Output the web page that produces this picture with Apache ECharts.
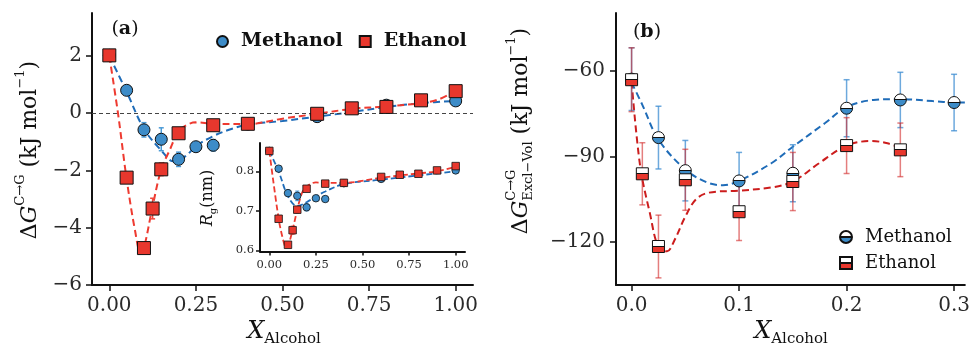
<!DOCTYPE html>
<html>
<head>
<meta charset="utf-8">
<script src="https://cdn.jsdelivr.net/npm/echarts@6/dist/echarts.min.js"></script>
<style>
  html, body { margin: 0; padding: 0; background: #fff; }
  #chart { width: 973px; height: 346px; }
</style>
</head>
<body>
<div id="chart"></div>
<script>
// ---- panel (a): free energy vs alcohol fraction ----
const xMethA = [0, 0.05, 0.1, 0.15, 0.2, 0.25, 0.3, 0.4, 0.6, 0.8, 1.0];
const dGMethA = [2.02, 0.80, -0.58, -0.91, -1.61, -1.17, -1.12, -0.38, -0.12, 0.28, 0.43];
const dGMethErrA = [0.08, 0.1, 0.25, 0.4, 0.25, 0.1, 0.2, 0.1, 0.15, 0.1, 0.08];
const xEthA = [0, 0.05, 0.1, 0.125, 0.15, 0.2, 0.3, 0.4, 0.6, 0.7, 0.8, 0.9, 1.0];
const dGEthA = [2.02, -2.25, -4.71, -3.33, -1.96, -0.70, -0.42, -0.37, -0.02, 0.17, 0.22, 0.45, 0.77];
const dGEthErrA = [0.05, 0.15, 0.15, 0.36, 0.22, 0.1, 0.1, 0.08, 0.08, 0.08, 0.1, 0.08, 0.1];

// dashed guide curves
const fitXMethA = [0, 0.05, 0.1, 0.15, 0.185, 0.22, 0.25, 0.3, 0.35, 0.4, 0.5, 0.6, 0.7, 0.8, 0.9, 1.0];
const fitMethA = [2.0, 0.75, -0.55, -1.3, -1.68, -1.5, -1.15, -0.8, -0.56, -0.4, -0.27, -0.12, 0.04, 0.22, 0.35, 0.43];
const fitXEthA = [0, 0.025, 0.05, 0.075, 0.09, 0.1, 0.125, 0.15, 0.175, 0.2, 0.225, 0.25, 0.3, 0.4, 0.5, 0.6, 0.7, 0.8, 0.9, 0.95, 1.0];
const fitEthA = [2.0, 0.0, -2.3, -4.15, -4.86, -4.7, -3.25, -1.96, -1.27, -0.63, -0.4, -0.32, -0.37, -0.38, -0.19, -0.02, 0.15, 0.24, 0.35, 0.48, 0.78];

// ---- inset: radius of gyration ----
const xMethR = [0, 0.05, 0.1, 0.15, 0.2, 0.25, 0.3, 0.4, 0.6, 1.0];
const rgMeth = [0.852, 0.807, 0.745, 0.738, 0.709, 0.732, 0.730, 0.770, 0.781, 0.8025];
const rgMethErr = [0.003, 0.004, 0.008, 0.012, 0.009, 0.005, 0.006, 0.004, 0.004, 0.003];
const xEthR = [0, 0.05, 0.1, 0.125, 0.15, 0.2, 0.3, 0.4, 0.6, 0.7, 0.8, 0.9, 1.0];
const rgEth = [0.852, 0.680, 0.614, 0.651, 0.703, 0.756, 0.769, 0.771, 0.786, 0.7915, 0.794, 0.8025, 0.8135];
const rgEthErr = [0.003, 0.004, 0.004, 0.01, 0.008, 0.004, 0.004, 0.003, 0.003, 0.003, 0.003, 0.003, 0.004];
const fitXMethR = [0, 0.05, 0.1, 0.15, 0.2, 0.25, 0.3, 0.4, 0.6, 0.8, 1.0];
const fitMethR = [0.852, 0.80, 0.737, 0.712, 0.722, 0.737, 0.749, 0.768, 0.779, 0.79, 0.80];
const fitXEthR = [0, 0.05, 0.075, 0.09, 0.1, 0.125, 0.15, 0.175, 0.2, 0.25, 0.3, 0.4, 0.6, 0.8, 0.9, 1.0];
const fitEthR = [0.852, 0.68, 0.625, 0.607, 0.61, 0.652, 0.703, 0.745, 0.762, 0.772, 0.771, 0.771, 0.784, 0.795, 0.80, 0.812];

// ---- panel (b): excluded volume term ----
const xMethB = [0, 0.025, 0.05, 0.1, 0.15, 0.2, 0.25, 0.3];
const gMethB = [-62.8, -83.3, -94.9, -98.5, -95.8, -73.0, -70.1, -71.0];
const gMethErrB = [11, 11, 10.6, 10, 10, 10, 9.7, 9.9];
const xEthB = [0, 0.01, 0.025, 0.05, 0.1, 0.15, 0.2, 0.25];
const gEthB = [-63.0, -96.0, -121.5, -98.1, -109.3, -98.7, -86.1, -87.6];
const gEthErrB = [11.2, 10.9, 11, 10.7, 10.1, 10.2, 9.8, 9.4];
const fitXMethB = [0, 0.01, 0.025, 0.05, 0.07, 0.085, 0.1, 0.13, 0.15, 0.18, 0.2, 0.225, 0.25, 0.28, 0.3, 0.31];
const fitMethB = [-64, -71.8, -84, -94.5, -99, -100, -98.5, -92.3, -86.5, -78.2, -72.6, -70.1, -69.8, -70.5, -71, -71];
const fitXEthB = [0, 0.008, 0.017, 0.025, 0.033, 0.04, 0.05, 0.06, 0.072, 0.1, 0.13, 0.15, 0.174, 0.2, 0.223, 0.238, 0.25];
const fitEthB = [-63.7, -93.4, -109.8, -121.8, -123.2, -119.2, -111, -104.9, -102.6, -101.9, -100.8, -98.7, -92.4, -86.1, -84.5, -85.3, -87];

const ticksA = [0, 0.25, 0.5, 0.75, 1.0];
const yTicksA = [-6, -4, -2, 0, 2];
const yTicksR = [0.6, 0.7, 0.8];
const ticksB = [0, 0.1, 0.2, 0.3];
const yTicksB = [-120, -90, -60];

const FONT = 'DejaVu Serif';
const BLUE = '#3d8cc8';
const RED = '#e8372d';
const BLUE_LINE = '#1f6cb8';
const RED_LINE = '#ee3a30';
const RED_LINE_B = '#cc1d1d';

const zip = (xs, ys) => xs.map((x, i) => [x, ys[i]]);
const zip3 = (xs, ys, es) => xs.map((x, i) => [x, ys[i], es[i]]);
const minus = v => (v < 0 ? '\u2212' + Math.abs(v) : String(v));

function axis(gridIndex, min, max, ticks, fmt, fontSize, margin, tickLen) {
    return {
        type: 'value', gridIndex, min, max,
        axisLine: { show: true, onZero: false, lineStyle: { color: '#111', width: 2 } },
        axisTick: { show: true, length: tickLen, customValues: ticks, lineStyle: { color: '#111', width: 1.5 } },
        axisLabel: { customValues: ticks, formatter: fmt, fontFamily: FONT, fontSize, color: '#2a2a2a', margin },
        splitLine: { show: false }
    };
}

function errBars(color, cap, width) {
    return function (params, api) {
        const x = api.value(0), y = api.value(1), e = api.value(2);
        const p1 = api.coord([x, y + e]);
        const p2 = api.coord([x, y - e]);
        const st = { stroke: color, lineWidth: width };
        return {
            type: 'group',
            children: [
                { type: 'line', shape: { x1: p1[0], y1: p1[1], x2: p2[0], y2: p2[1] }, style: st },
                { type: 'line', shape: { x1: p1[0] - cap, y1: p1[1], x2: p1[0] + cap, y2: p1[1] }, style: st },
                { type: 'line', shape: { x1: p2[0] - cap, y1: p2[1], x2: p2[0] + cap, y2: p2[1] }, style: st }
            ]
        };
    };
}

function fitLine(idx, data, color, width, dash) {
    return {
        type: 'line', xAxisIndex: idx, yAxisIndex: idx, data, smooth: 0.35,
        symbol: 'none', silent: true, z: 3,
        lineStyle: { color, width, type: dash }
    };
}

function errSeries(idx, data, color, cap, width) {
    return {
        type: 'custom', xAxisIndex: idx, yAxisIndex: idx, data, silent: true, z: 4,
        encode: { x: 0, y: 1 }, renderItem: errBars(color, cap, width)
    };
}

function halfFill(color) {
    return new echarts.graphic.LinearGradient(0, 0, 0, 1, [
        { offset: 0, color: '#fff' }, { offset: 0.46, color: '#fff' },
        { offset: 0.46, color: '#111' }, { offset: 0.54, color: '#111' },
        { offset: 0.54, color: color }, { offset: 1, color: color }
    ]);
}

// text with super/subscripts, measured so the pieces line up
const ctx = document.createElement('canvas').getContext('2d');
function mathText(x, y, rotation, parts) {
    let cur = 0, prevStart = 0;
    const children = parts.map(p => {
        const font = (p.italic ? 'italic ' : '') + (p.bold ? 'bold ' : '') + p.size + 'px "' + FONT + '"';
        ctx.font = font;
        const w = ctx.measureText(p.t).width;
        const start = p.stack ? prevStart : cur;
        prevStart = start;
        cur = Math.max(cur, start + w);
        return {
            type: 'text', x: start, y: p.dy || 0, silent: true,
            style: { text: p.t, font, fill: '#111', align: 'left', verticalAlign: 'middle',
                     textAlign: 'left', textVerticalAlign: 'middle' }
        };
    });
    children.forEach(c => { c.x -= cur / 2; });
    return { type: 'group', x, y, rotation, children };
}

const chart = echarts.init(document.getElementById('chart'), null, { renderer: 'canvas' });

const option = {
    animation: false,
    backgroundColor: '#fff',
    grid: [
        { left: 92, top: 13, width: 381, height: 272 },
        { left: 260, top: 143, width: 205, height: 108.5 },
        { left: 616, top: 13, width: 352, height: 272 }
    ],
    xAxis: [
        axis(0, -0.05, 1.05, ticksA, v => v.toFixed(2), 20, 11, 6),
        axis(1, -0.05, 1.05, ticksA, v => v.toFixed(2), 11.5, 8, 4),
        axis(2, -0.0145, 0.31, ticksB, v => v.toFixed(1), 20, 11, 6)
    ],
    yAxis: [
        axis(0, -6, 3.5, yTicksA, minus, 20, 10, 6),
        axis(1, 0.597, 0.872, yTicksR, v => v.toFixed(1), 11.5, 6, 4),
        axis(2, -135, -39.6, yTicksB, minus, 20, 11, 6)
    ],
    legend: [
        {
            left: 211, top: 27, itemWidth: 11, itemHeight: 11, itemGap: 16,
            data: ['Methanol', 'Ethanol'],
            textStyle: { fontFamily: FONT, fontWeight: 'bold', fontSize: 19, color: '#111', padding: [0, 0, 0, 8] }
        },
        {
            left: 834, top: 223, orient: 'vertical', itemWidth: 12, itemHeight: 12, itemGap: 8,
            data: ['Methanol (b)', 'Ethanol (b)'],
            formatter: n => n.replace(' (b)', ''),
            textStyle: { fontFamily: FONT, fontSize: 18, color: '#111', padding: [0, 0, 0, 8] }
        }
    ],
    graphic: [
        mathText(30, 150, Math.PI / 2, [
            { t: '\u0394', size: 22 }, { t: 'G', size: 22, italic: true },
            { t: 'C\u2192G', size: 13, dy: -9 }, { t: ' (kJ mol', size: 22 },
            { t: '\u22121', size: 13, dy: -9 }, { t: ')', size: 22 }
        ]),
        mathText(521, 131, Math.PI / 2, [
            { t: '\u0394', size: 22 }, { t: 'G', size: 22, italic: true },
            { t: 'C\u2192G', size: 13, dy: -9 }, { t: 'Excl\u2212Vol', size: 13, dy: 8, stack: true },
            { t: ' (kJ mol', size: 22 }, { t: '\u22121', size: 13, dy: -9 }, { t: ')', size: 22 }
        ]),
        mathText(284, 332, 0, [
            { t: 'X', size: 24, italic: true }, { t: 'Alcohol', size: 15, dy: 7 }
        ]),
        mathText(791, 332, 0, [
            { t: 'X', size: 24, italic: true }, { t: 'Alcohol', size: 15, dy: 7 }
        ]),
        mathText(208, 198, Math.PI / 2, [
            { t: 'R', size: 16, italic: true }, { t: 'g', size: 10, dy: 5 }, { t: '(nm)', size: 16 }
        ]),
        mathText(125, 29, 0, [
            { t: '(', size: 19 }, { t: 'a', size: 19, bold: true }, { t: ')', size: 19 }
        ]),
        mathText(647, 32, 0, [
            { t: '(', size: 19 }, { t: 'b', size: 19, bold: true }, { t: ')', size: 19 }
        ])
    ],
    series: [
        // panel (a)
        Object.assign(fitLine(0, zip(fitXMethA, fitMethA), BLUE_LINE, 2, [7, 4]), {
            markLine: {
                silent: true, symbol: 'none', label: { show: false },
                lineStyle: { color: '#444', width: 1, type: [4, 3] },
                data: [{ yAxis: 0 }]
            }
        }),
        fitLine(0, zip(fitXEthA, fitEthA), RED_LINE, 2, [7, 4]),
        errSeries(0, zip3(xMethA, dGMethA, dGMethErrA), '#4a9ad6', 2.5, 1.5),
        errSeries(0, zip3(xEthA, dGEthA, dGEthErrA), '#f0473d', 2.5, 1.5),
        {
            name: 'Methanol', type: 'scatter', xAxisIndex: 0, yAxisIndex: 0, z: 5,
            symbol: 'circle', symbolSize: 12, data: zip(xMethA, dGMethA),
            itemStyle: { color: BLUE, borderColor: '#111', borderWidth: 1, opacity: 1 }
        },
        {
            name: 'Ethanol', type: 'scatter', xAxisIndex: 0, yAxisIndex: 0, z: 6,
            symbol: 'rect', symbolSize: 13, data: zip(xEthA, dGEthA),
            itemStyle: { color: RED, borderColor: '#111', borderWidth: 1, opacity: 1 }
        },
        // inset
        fitLine(1, zip(fitXMethR, fitMethR), BLUE_LINE, 1.8, [6, 3]),
        fitLine(1, zip(fitXEthR, fitEthR), RED_LINE, 1.8, [6, 3]),
        errSeries(1, zip3(xMethR, rgMeth, rgMethErr), '#4a9ad6', 2, 1.2),
        errSeries(1, zip3(xEthR, rgEth, rgEthErr), '#f0473d', 2, 1.2),
        {
            name: 'Methanol (i)', type: 'scatter', xAxisIndex: 1, yAxisIndex: 1, z: 5,
            symbol: 'circle', symbolSize: 7.5, data: zip(xMethR, rgMeth),
            itemStyle: { color: BLUE, borderColor: '#111', borderWidth: 0.8, opacity: 1 }
        },
        {
            name: 'Ethanol (i)', type: 'scatter', xAxisIndex: 1, yAxisIndex: 1, z: 6,
            symbol: 'rect', symbolSize: 7.5, data: zip(xEthR, rgEth),
            itemStyle: { color: RED, borderColor: '#111', borderWidth: 0.8, opacity: 1 }
        },
        // panel (b)
        fitLine(2, zip(fitXMethB, fitMethB), BLUE_LINE, 2, [7, 4]),
        fitLine(2, zip(fitXEthB, fitEthB), RED_LINE_B, 2, [7, 4]),
        errSeries(2, zip3(xMethB, gMethB, gMethErrB), 'rgba(60,140,210,0.75)', 3, 1.5),
        errSeries(2, zip3(xEthB, gEthB, gEthErrB), 'rgba(210,40,40,0.6)', 3, 1.5),
        {
            name: 'Methanol (b)', type: 'scatter', xAxisIndex: 2, yAxisIndex: 2, z: 5,
            symbol: 'circle', symbolSize: 12, data: zip(xMethB, gMethB),
            itemStyle: { color: halfFill(BLUE), borderColor: '#111', borderWidth: 1, opacity: 1 }
        },
        {
            name: 'Ethanol (b)', type: 'scatter', xAxisIndex: 2, yAxisIndex: 2, z: 6,
            symbol: 'rect', symbolSize: 12, data: zip(xEthB, gEthB),
            itemStyle: { color: halfFill(RED), borderColor: '#111', borderWidth: 1, opacity: 1 }
        }
    ]
};

chart.setOption(option);
</script>
</body>
</html>
